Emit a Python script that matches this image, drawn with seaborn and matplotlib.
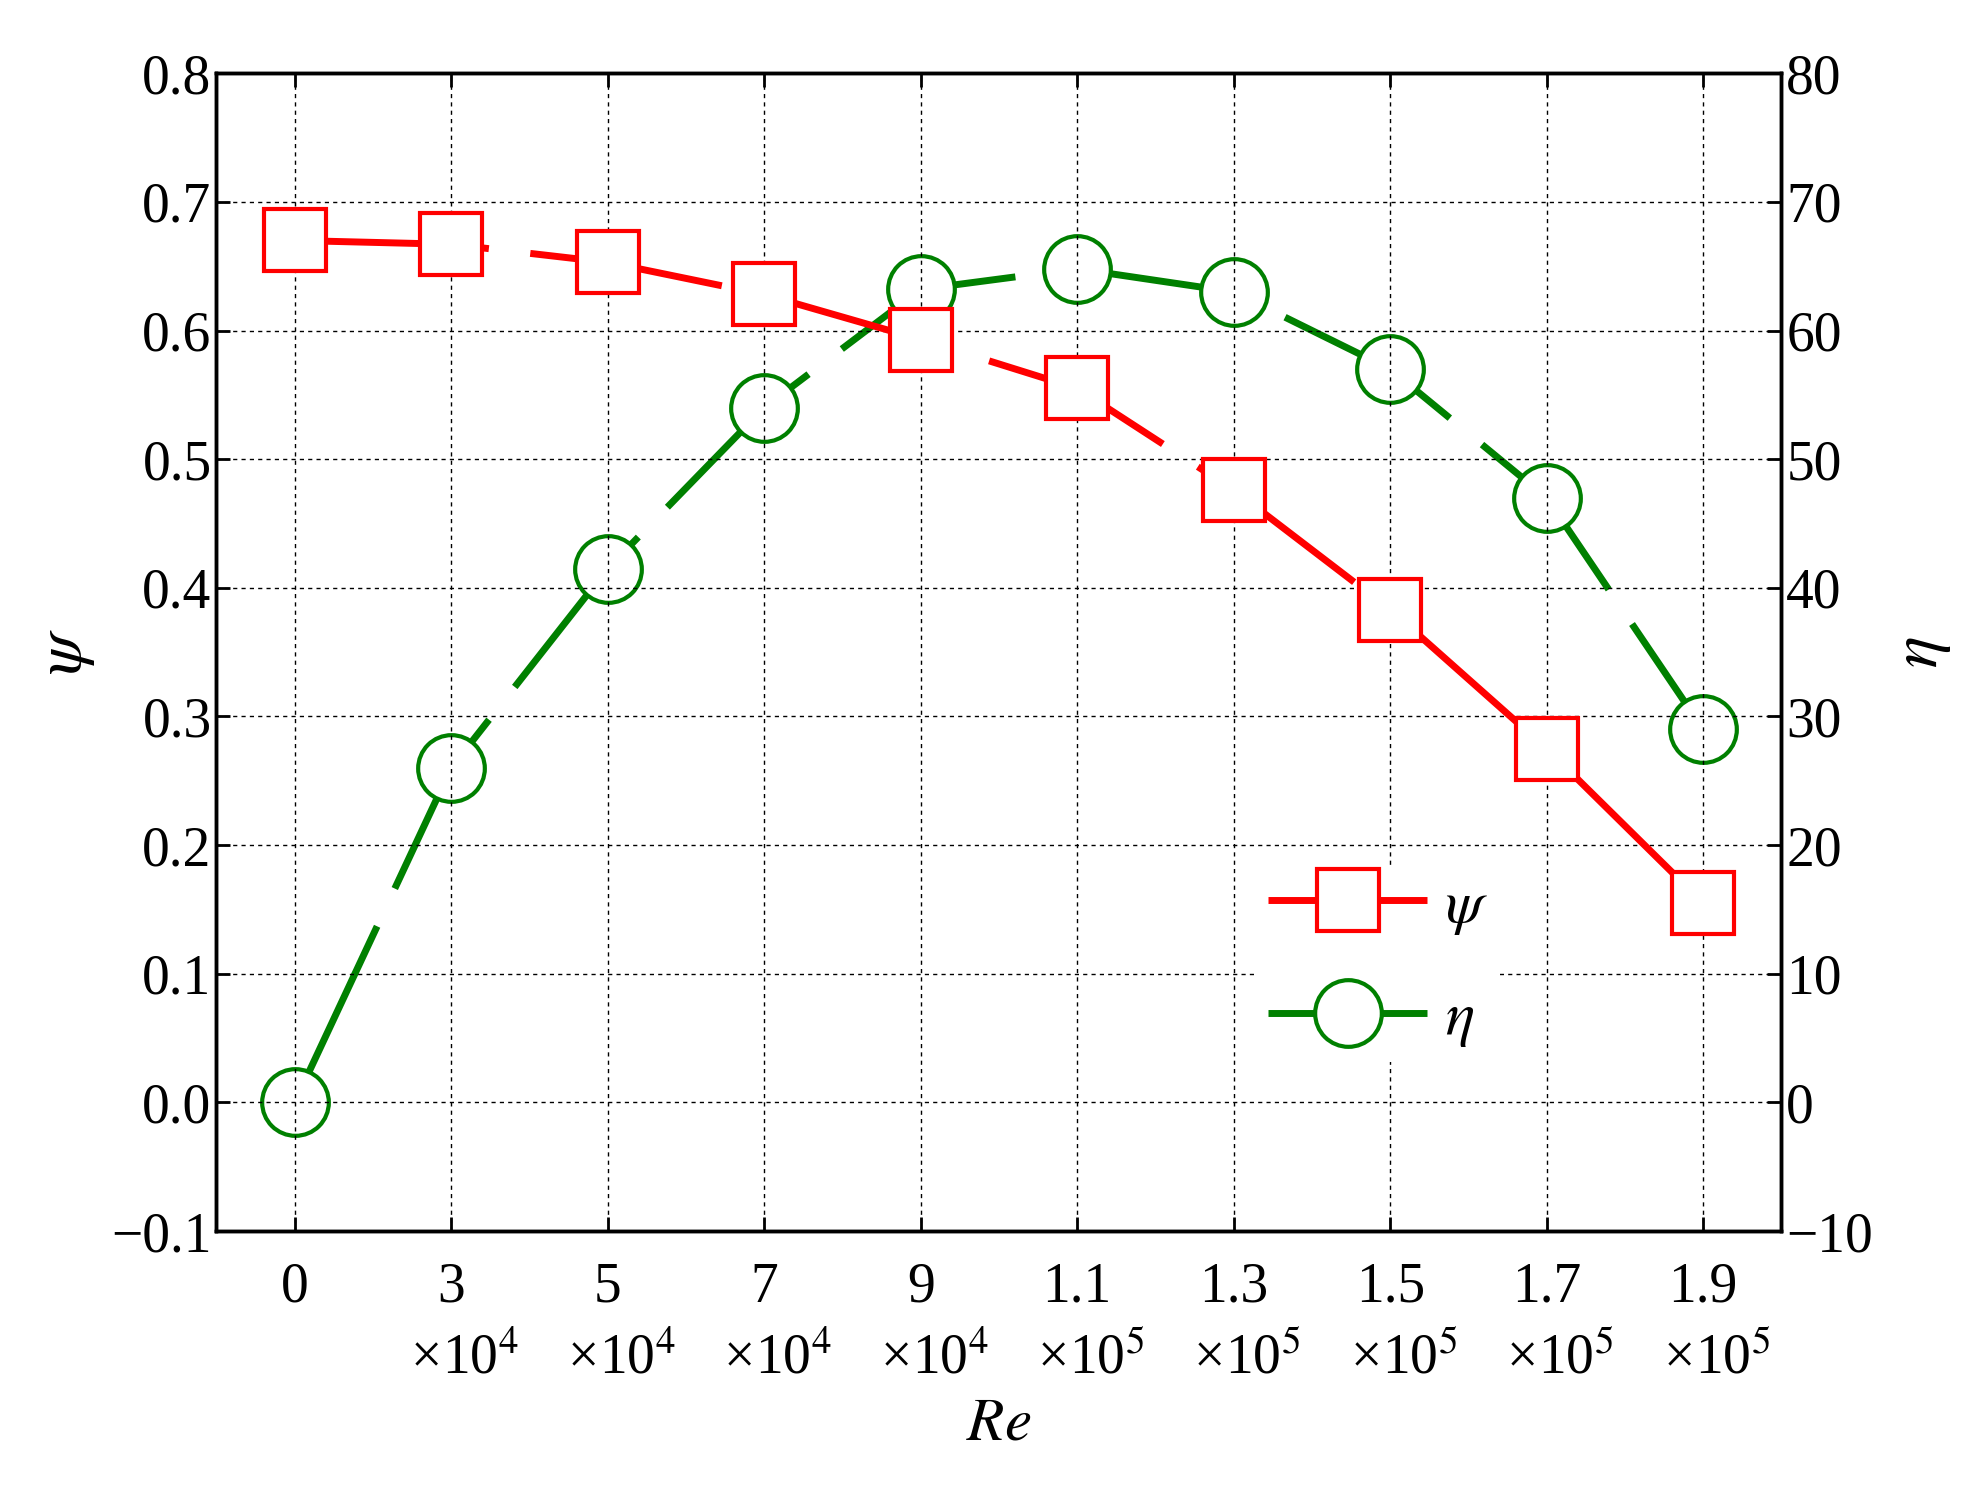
import matplotlib
matplotlib.use("Agg")
import matplotlib.pyplot as plt
import seaborn as sns
import numpy as np
from matplotlib.lines import Line2D

# data
re_labels = ["0", "3\n  ×10$^4$", "5\n  ×10$^4$", "7\n  ×10$^4$", "9\n  ×10$^4$",
             "1.1\n  ×10$^5$", "1.3\n  ×10$^5$", "1.5\n  ×10$^5$", "1.7\n  ×10$^5$", "1.9\n  ×10$^5$"]
psi = [0.670, 0.667, 0.653, 0.628, 0.593, 0.555, 0.476, 0.383, 0.275, 0.155]
eta = [0.0, 26.0, 41.5, 54.0, 63.2, 64.8, 63.0, 57.0, 47.0, 29.0]

sns.set_style("ticks")
plt.rcParams["font.family"] = ["Liberation Serif", "DejaVu Serif"]
plt.rcParams["mathtext.fontset"] = "stix"
for k in ("text.color", "axes.labelcolor", "xtick.color", "ytick.color", "axes.edgecolor"):
    plt.rcParams[k] = "black"

DASH = [28, 6]

fig = plt.figure(figsize=(19.86, 14.94), dpi=100)
ax = fig.add_axes([0.109, 0.176, 0.788, 0.775])
ax2 = ax.twinx()

x = np.arange(len(psi))
sns.lineplot(x=x, y=psi, ax=ax, color="red", lw=5, zorder=3)
ax.lines[-1].set_dashes(DASH)
ax.plot(x, psi, ls="none", marker="s", ms=44, mfc="white", mec="red", mew=3, zorder=4)
sns.lineplot(x=x, y=eta, ax=ax2, color="green", lw=5, zorder=3)
ax2.lines[-1].set_dashes(DASH)
ax2.plot(x, eta, ls="none", marker="o", ms=48, mfc="white", mec="green", mew=3, zorder=4)

ax.set_xlim(-0.5, 9.5)
ax.set_ylim(-0.1, 0.8)
ax2.set_ylim(-10, 80)
ax.set_yticks(np.arange(-0.1, 0.81, 0.1))
ax.set_yticklabels(["−0.1"] + [f"{v:.1f}" for v in np.arange(0, 0.81, 0.1)])
ax2.set_yticks(np.arange(-10, 81, 10))
ax2.set_yticklabels(["−10"] + [str(v) for v in range(0, 81, 10)])
ax.set_xticks(x)
ax.set_xticklabels(re_labels, linespacing=1.5)
for a in (ax, ax2):
    a.tick_params(labelsize=40, direction="in", length=10, width=2)
    for s in a.spines.values():
        s.set_linewidth(2.5)
ax.tick_params(axis="x", pad=22, top=True)
ax.grid(True, ls=(0, (3, 3)), color="black", lw=1)
ax.set_axisbelow(True)
ax.set_xlabel("$Re$", fontsize=44, labelpad=8)
ax.set_ylabel("$\\psi$", fontsize=48, labelpad=10)
ax2.set_ylabel("$\\eta$", fontsize=48, labelpad=14, rotation=90)
ax2.set_zorder(ax.get_zorder() - 1)
ax.patch.set_visible(False)
ax2.patch.set_facecolor("white")

h = [Line2D([], [], color="red", lw=5, dashes=DASH, marker="s", ms=44, mfc="white", mec="red", mew=3),
     Line2D([], [], color="green", lw=5, dashes=DASH, marker="o", ms=48, mfc="white", mec="green", mew=3)]
leg = ax.legend(h, ["$\\psi$", "$\\eta$"], loc="lower right", bbox_to_anchor=(0.84, 0.12),
                fontsize=44, frameon=True, framealpha=1, edgecolor="none",
                handlelength=2.6, handletextpad=0.3, labelspacing=0.9, borderpad=0.2)
leg.set_zorder(10)

fig.savefig("out.png", dpi=100)
